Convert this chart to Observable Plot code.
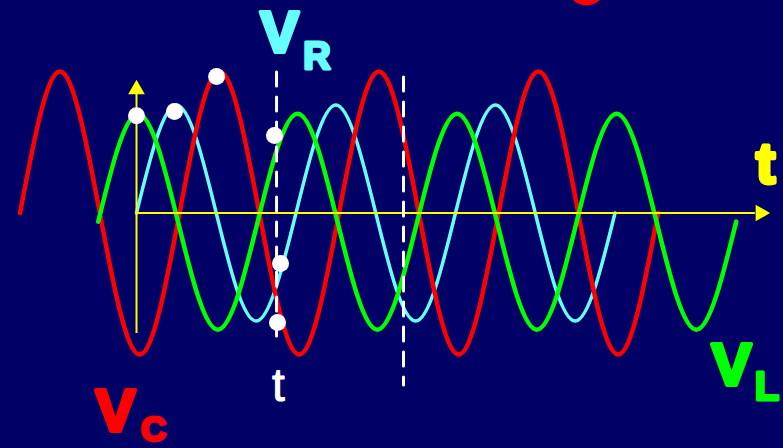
<!DOCTYPE html>
<html>
<head>
<meta charset="utf-8">
<script src="https://cdn.jsdelivr.net/npm/d3@7"></script>
<script src="https://cdn.jsdelivr.net/npm/@observablehq/plot@0.6"></script>
<style>
  html, body { margin: 0; padding: 0; background: #000066; }
  #chart svg { display: block; }
</style>
</head>
<body>
<div id="chart"></div>
<script>
// time in cycles (0 = vertical axis), voltage in units of the V_R amplitude
const redT   = [-0.73,-0.48,-0.23,0.02,0.27,0.52,0.77,1.02,1.27,1.52,1.77,2.02,2.27,2.52,2.77,3.02,3.27];
const redV   = [0,1.31,0,-1.31,0,1.31,0,-1.31,0,1.31,0,-1.31,0,1.31,0,-1.31,0];
const cyanT  = [0,0.25,0.5,0.75,1,1.25,1.5,1.75,2,2.25,2.5,2.75,3];
const cyanV  = [0,1,0,-1,0,1,0,-1,0,1,0,-1,0];
const greenT = [-0.24,0.01,0.26,0.51,0.76,1.01,1.26,1.51,1.76,2.01,2.26,2.51,2.76,3.01,3.26,3.51,3.76];
const greenV = [-0.08,0.92,-0.08,-1.08,-0.08,0.92,-0.08,-1.08,-0.08,0.92,-0.08,-1.08,-0.08,0.92,-0.08,-1.08,-0.08];

// axes extents
const axisT = [0, 3.88];
const axisV = [-1.116, 1.10];

// marked instants (dashed) and highlighted points
const markT    = [0.878, 1.674];
const markTop  = [1.301, 1.255];
const markBot  = [-1.227, -1.597];
const pointT = [0.0, 0.238, 0.502, 0.865, 0.903, 0.884];
const pointV = [0.90, 0.94, 1.264, 0.718, -0.468, -1.014];

// labels
const labelText = ["V", "R", "V", "C", "V", "L", "t", "t"];
const labelT    = [0.897, 1.132, -0.132, 0.107, 3.730, 3.953, 3.944, 0.890];
const labelV    = [1.495, 1.335, -2.014, -2.112, -1.588, -1.730, 0.28, -1.745];

const toRows = (T, V) => T.map((t, i) => ({t, v: V[i]}));
const red = toRows(redT, redV), cyan = toRows(cyanT, cyanV), green = toRows(greenT, greenV);
const points = toRows(pointT, pointV);
const marksData = markT.map((t, i) => ({t, y1: markTop[i], y2: markBot[i]}));

const labelStyle = [
  {fill: "#66ffff", size: 58, sw: 4, font: "bold"},
  {fill: "#66ffff", size: 38, sw: 3, font: "bold"},
  {fill: "#ff0000", size: 60, sw: 4, font: "bold"},
  {fill: "#ff0000", size: 35, sw: 3, font: "bold"},
  {fill: "#00ff00", size: 60, sw: 4, font: "bold"},
  {fill: "#00ff00", size: 40, sw: 3, font: "bold"},
  {fill: "#ffff00", size: 58, sw: 4, font: "bold"},
  {fill: "#ffffff", size: 46, sw: 1, font: "normal"}
];
const labelMarks = labelText.map((txt, i) => Plot.text([{t: labelT[i], v: labelV[i], txt}], {
  x: "t", y: "v", text: "txt",
  fill: labelStyle[i].fill, stroke: labelStyle[i].fill, strokeWidth: labelStyle[i].sw,
  strokeLinejoin: "round", fontSize: labelStyle[i].size, fontWeight: labelStyle[i].font,
  fontFamily: "'Liberation Sans', Arial, sans-serif", textAnchor: "middle", lineAnchor: "bottom"
}));

const chart = Plot.plot({
  width: 783,
  height: 448,
  margin: 0,
  x: {domain: [-0.8527, 4.0564], axis: null},
  y: {domain: [-2.1806, 1.9676], axis: null},
  style: {background: "#000066", overflow: "hidden"},
  marks: [
    Plot.line(cyan,  {x: "t", y: "v", stroke: "#66ffff", strokeWidth: 3.5, curve: "natural"}),
    Plot.line(red,   {x: "t", y: "v", stroke: "#ff0000", strokeWidth: 4.5, curve: "natural"}),
    Plot.line(green, {x: "t", y: "v", stroke: "#00ff00", strokeWidth: 4.5, curve: "natural"}),
    Plot.ruleY([0], {x1: axisT[0], x2: axisT[1], stroke: "#ffff00", strokeWidth: 2}),
    Plot.ruleX([0], {y1: axisV[0], y2: axisV[1], stroke: "#ffff00", strokeWidth: 2}),
    Plot.dot([{t: 0, v: 1.1435}], {x: "t", y: "v", symbol: "triangle", r: 6.2, fill: "#ffff00", stroke: null}),
    Plot.dot([{t: 3.912, v: 0}], {x: "t", y: "v", symbol: "triangle", r: 6.2, rotate: 90, fill: "#ffff00", stroke: null}),
    Plot.ruleX(marksData, {x: "t", y1: "y1", y2: "y2", stroke: "#ffffff", strokeWidth: 3, strokeDasharray: "14,11", strokeLinecap: "round"}),
    Plot.dot(points, {x: "t", y: "v", r: 8.5, fill: "#ffffff", stroke: null}),
    Plot.dot([{t: 2.821, v: 2.097}], {x: "t", y: "v", r: 19, fill: "#ff0000", stroke: null}),
    ...labelMarks
  ]
});
document.getElementById("chart").appendChild(chart);
</script>
</body>
</html>
